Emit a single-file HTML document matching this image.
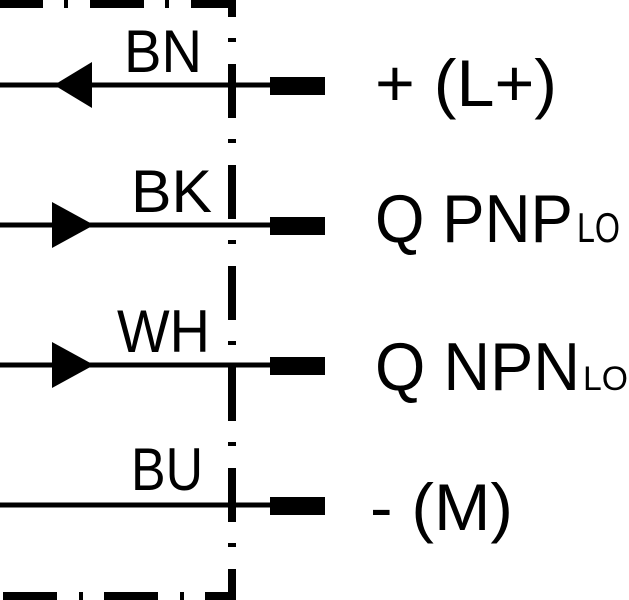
<!DOCTYPE html>
<html><head><meta charset="utf-8"><style>
html,body{margin:0;padding:0;background:#fff;}
svg{display:block;}
text{font-family:"Liberation Sans",Arial,sans-serif;fill:#000;}
</style></head><body>
<svg width="629" height="600" viewBox="0 0 629 600" xmlns="http://www.w3.org/2000/svg">
<path d="M0 4 H232 V596 H0" fill="none" stroke="#000" stroke-width="8" stroke-dasharray="54 21 4 22" stroke-dashoffset="11"/>
<g stroke="#000" stroke-width="5">
<line x1="0" y1="85" x2="272" y2="85"/>
<line x1="0" y1="225" x2="272" y2="225"/>
<line x1="0" y1="365" x2="272" y2="365"/>
<line x1="0" y1="505" x2="272" y2="505"/>
</g>
<g fill="#000">
<rect x="270" y="77" width="55" height="18"/>
<rect x="270" y="217" width="55" height="18"/>
<rect x="270" y="357" width="55" height="18"/>
<rect x="270" y="497" width="55" height="18"/>
<polygon points="54,85 92,62 92,108"/>
<polygon points="94,225 52,202 52,248"/>
<polygon points="94,365 52,342 52,388"/>
</g>
<text x="124" y="72" font-size="60" textLength="78" lengthAdjust="spacingAndGlyphs">BN</text>
<text x="131" y="212" font-size="60" textLength="81" lengthAdjust="spacingAndGlyphs">BK</text>
<text x="117" y="352" font-size="60" textLength="93" lengthAdjust="spacingAndGlyphs">WH</text>
<text x="131" y="490" font-size="60" textLength="72" lengthAdjust="spacingAndGlyphs">BU</text>
<text x="375" y="106" font-size="66" textLength="182" lengthAdjust="spacingAndGlyphs">+ (L+)</text>
<text x="375" y="242" font-size="68" textLength="198" lengthAdjust="spacingAndGlyphs">Q PNP</text>
<text x="577" y="242" font-size="42" textLength="43" lengthAdjust="spacingAndGlyphs">LO</text>
<text x="375" y="390" font-size="68" textLength="205" lengthAdjust="spacingAndGlyphs">Q NPN</text>
<text x="583" y="390" font-size="34" textLength="45" lengthAdjust="spacingAndGlyphs">LO</text>
<text x="370" y="530" font-size="66" textLength="143" lengthAdjust="spacingAndGlyphs">- (M)</text>
</svg>
</body></html>
